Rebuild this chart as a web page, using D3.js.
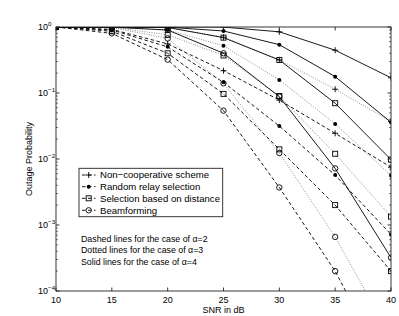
<!DOCTYPE html>
<html><head><meta charset="utf-8">
<script src="https://cdn.jsdelivr.net/npm/d3@7"></script>
<style>body{margin:0;background:#fff}svg{display:block}text{font-family:"Liberation Sans",Arial,sans-serif;fill:#000}</style>
</head><body><svg id="c" width="399" height="316"></svg>
<script>
const snr = [10, 15, 20, 25, 30, 35, 40];
const schemes = ["Non\u2212cooperative scheme", "Random relay selection", "Selection based on distance", "Beamforming"];
const markers = ["plus", "dot", "square", "circle"];
const alphas = [2, 3, 4];
// alpha = 2 (dashed)
const a2_noncoop = [1, 0.92, 0.555, 0.218, 0.078, 0.0245, 0.0075];
const a2_random  = [1, 0.90, 0.50, 0.145, 0.0316, 0.0057, 0.00072];
const a2_dist    = [1, 0.86, 0.40, 0.097, 0.014, 0.002, 0.0002];
const a2_beam    = [1, 0.80, 0.32, 0.054, 0.0037, 0.0002, 0.000005];
// alpha = 3 (dotted)
const a3_noncoop = [1, 0.999, 0.978, 0.70, 0.318, 0.114, 0.037];
const a3_random  = [1, 0.995, 0.90, 0.52, 0.158, 0.034, 0.0056];
const a3_dist    = [1, 0.99, 0.76, 0.37, 0.09, 0.012, 0.00134];
const a3_beam    = [1, 0.985, 0.67, 0.14, 0.0123, 0.00066, 0.00002];
// alpha = 4 (solid)
const a4_noncoop = [1, 1, 1, 0.997, 0.845, 0.445, 0.17];
const a4_random  = [1, 1, 0.995, 0.87, 0.54, 0.177, 0.036];
const a4_dist    = [1, 1, 0.985, 0.69, 0.316, 0.07, 0.0098];
const a4_beam    = [1, 0.995, 0.90, 0.40, 0.088, 0.0072, 0.00032];
const xTicks = [10, 15, 20, 25, 30, 35, 40];
const yTickExp = [0, -1, -2, -3, -4];
const notes = ["Dashed lines for the case of \u03b1=2", "Dotted lines for the case of \u03b1=3", "Solid lines for the case of \u03b1=4"];

const series = [
  {alpha:2, style:"dashed", data:[a2_noncoop,a2_random,a2_dist,a2_beam]},
  {alpha:3, style:"dotted", data:[a3_noncoop,a3_random,a3_dist,a3_beam]},
  {alpha:4, style:"solid",  data:[a4_noncoop,a4_random,a4_dist,a4_beam]}
];

const svg = d3.select("#c");
const L = 56, R = 391, T = 27, B = 291;
const x = d3.scaleLinear().domain([10, 40]).range([L, R]);
const y = d3.scaleLog().domain([1e-4, 1]).range([B, T]);

svg.append("defs").append("clipPath").attr("id","clip")
  .append("rect").attr("x",L).attr("y",T).attr("width",R-L).attr("height",B-T);

const dash = {dashed:"3.5,2.5", dotted:"0.8,1.6", solid:null};
const lw = {dashed:0.9, dotted:0.8, solid:0.9};
const lcol = {dashed:"#000", dotted:"#555", solid:"#000"};

function drawMarker(g, type, cx, cy) {
  if (type === "plus") {
    g.append("path").attr("d", `M${cx-3},${cy}H${cx+3}M${cx},${cy-3}V${cy+3}`).attr("stroke","#000").attr("stroke-width",0.9).attr("fill","none");
  } else if (type === "dot") {
    g.append("circle").attr("cx",cx).attr("cy",cy).attr("r",2).attr("fill","#000");
  } else if (type === "square") {
    g.append("rect").attr("x",cx-2.5).attr("y",cy-2.5).attr("width",5).attr("height",5).attr("fill","none").attr("stroke","#000").attr("stroke-width",0.9);
  } else {
    g.append("circle").attr("cx",cx).attr("cy",cy).attr("r",2.7).attr("fill","none").attr("stroke","#000").attr("stroke-width",0.9);
  }
}

const line = d3.line().x((d,i)=>x(snr[i])).y(d=>y(d));
const plot = svg.append("g").attr("clip-path","url(#clip)");
series.forEach(s => {
  s.data.forEach((vals, k) => {
    plot.append("path").attr("d", line(vals)).attr("fill","none")
      .attr("stroke", lcol[s.style]).attr("stroke-width", lw[s.style])
      .attr("stroke-dasharray", dash[s.style]);
    vals.forEach((v,i) => { if (v >= 1e-4) drawMarker(plot, markers[k], x(snr[i]), y(v)); });
  });
});

// axes box
const ax = svg.append("g").attr("stroke","#222").attr("stroke-width",0.9).attr("fill","none");
ax.append("rect").attr("x",L).attr("y",T).attr("width",R-L).attr("height",B-T);
xTicks.forEach(t => {
  ax.append("line").attr("x1",x(t)).attr("x2",x(t)).attr("y1",B).attr("y2",B-3.5);
  ax.append("line").attr("x1",x(t)).attr("x2",x(t)).attr("y1",T).attr("y2",T+3.5);
});
yTickExp.forEach(e => {
  const v = Math.pow(10,e);
  ax.append("line").attr("x1",L).attr("x2",L+3.5).attr("y1",y(v)).attr("y2",y(v));
  ax.append("line").attr("x1",R).attr("x2",R-3.5).attr("y1",y(v)).attr("y2",y(v));
  if (e > -4) for (let k=2;k<=9;k++) {
    const mv = k*v/10;
    ax.append("line").attr("x1",L).attr("x2",L+2).attr("y1",y(mv)).attr("y2",y(mv)).attr("stroke-width",0.6);
    ax.append("line").attr("x1",R).attr("x2",R-2).attr("y1",y(mv)).attr("y2",y(mv)).attr("stroke-width",0.6);
  }
});

// tick labels
xTicks.forEach(t => {
  svg.append("text").attr("x",x(t)).attr("y",302.5).attr("text-anchor","middle").attr("font-size",9).text(t);
});
yTickExp.forEach(e => {
  const tx = svg.append("text").attr("x",38).attr("y",y(Math.pow(10,e))+3.2).attr("font-size",9);
  tx.append("tspan").text("10");
  tx.append("tspan").attr("dy",-4.5).attr("font-size",6.2).text(e===0?"0":"\u2212"+(-e));
});
svg.append("text").attr("x",(L+R)/2).attr("y",312.5).attr("text-anchor","middle").attr("font-size",9).text("SNR in dB");
svg.append("text").attr("transform",`translate(32,${(T+B)/2}) rotate(-90)`).attr("text-anchor","middle").attr("font-size",9).text("Outage Probability");

// legend
const lg = svg.append("g");
lg.append("rect").attr("x",79).attr("y",168.3).attr("width",143.7).attr("height",48.4).attr("fill","#fff").attr("stroke","#222").attr("stroke-width",0.9);
const legY = [175, 186.7, 198.3, 210.3];
schemes.forEach((name,k) => {
  lg.append("line").attr("x1",82).attr("x2",95.5).attr("y1",legY[k]).attr("y2",legY[k]).attr("stroke","#000").attr("stroke-width",0.9).attr("stroke-dasharray","3.5,2.5");
  drawMarker(lg, markers[k], 88.7, legY[k]);
  lg.append("text").attr("x",100).attr("y",legY[k]+3.3).attr("font-size",9.6).text(name);
});
const noteY = [241.5, 253, 264.5];
notes.forEach((n,i) => {
  svg.append("text").attr("x",81).attr("y",noteY[i]).attr("font-size",8.8).text(n);
});
</script></body></html>
